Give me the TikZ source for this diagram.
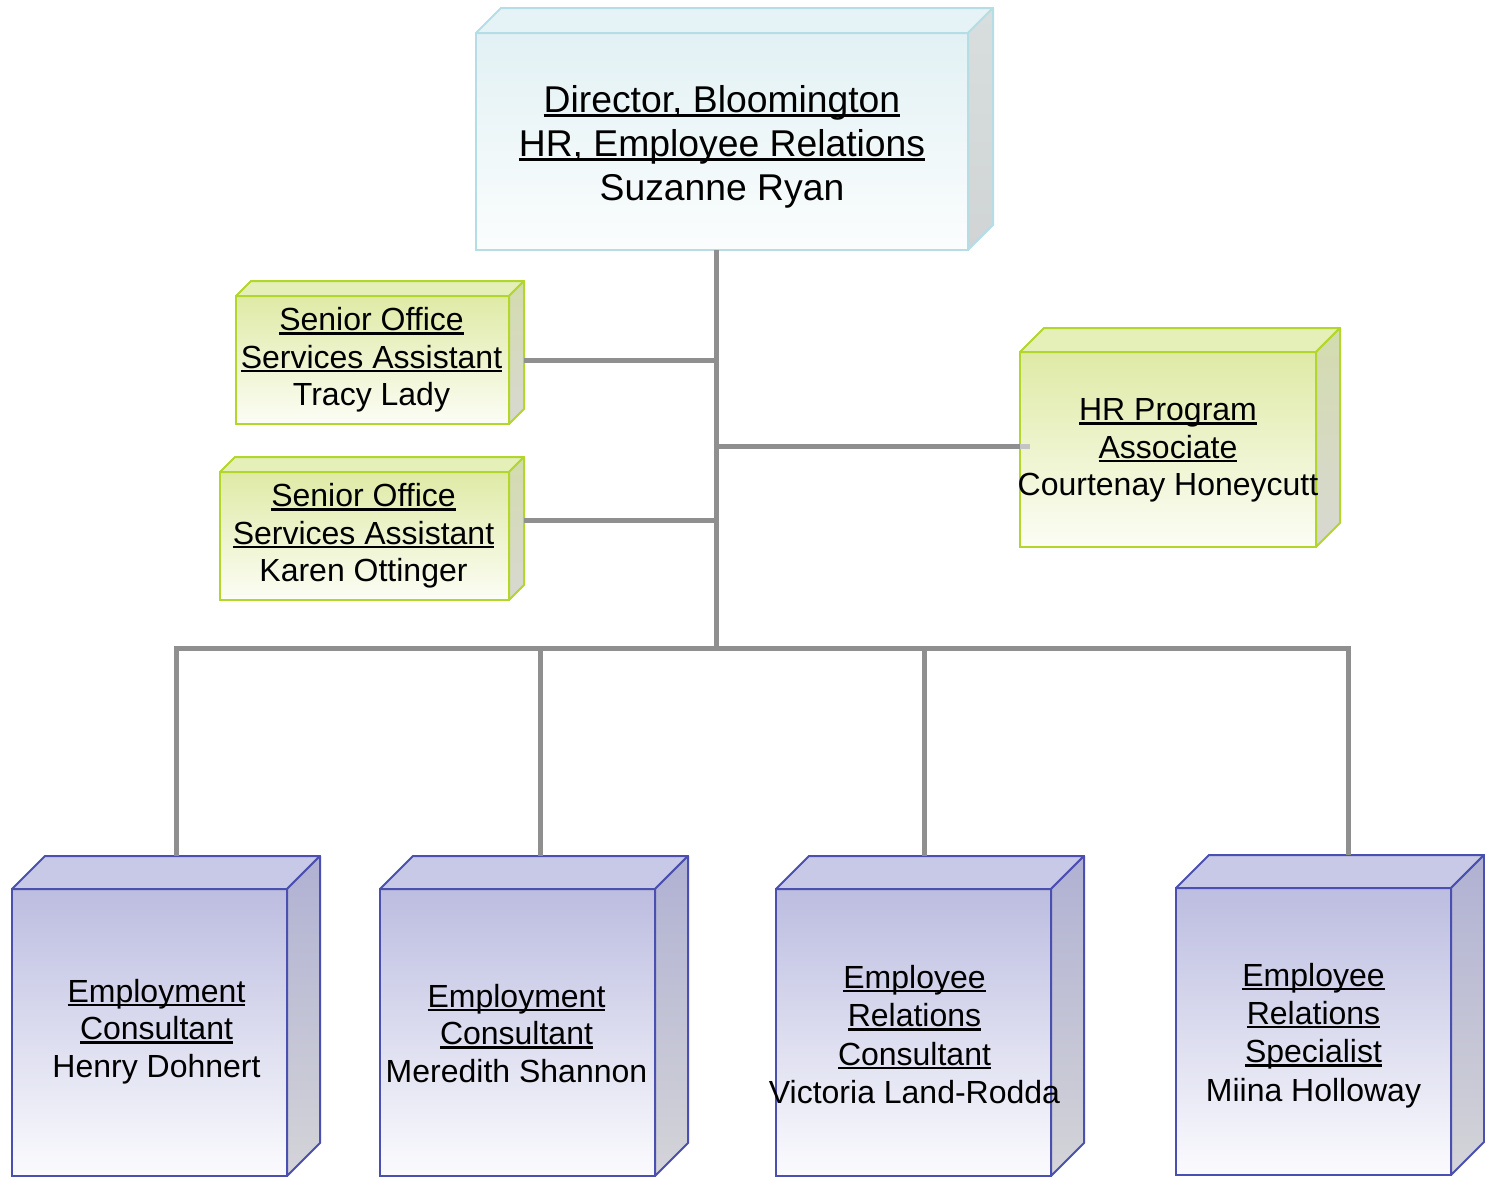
\documentclass[tikz,border=0pt]{standalone}
\usepackage{fontspec}
\setmainfont{Liberation Sans}
\usetikzlibrary{calc}
\definecolor{linegray}{HTML}{8F8F8F}
\definecolor{fadegray}{HTML}{C4C4C4}
\definecolor{cyanB}{HTML}{B5DDE6}
\definecolor{cyanT}{HTML}{E2F1F4}
\definecolor{cyanW}{HTML}{FBFDFD}
\definecolor{cyanTop}{HTML}{E5F3F6}
\definecolor{cyanS1}{HTML}{D8DEDE}
\definecolor{cyanS2}{HTML}{D0D4D4}
\definecolor{grnB}{HTML}{B2D62A}
\definecolor{grnT}{HTML}{DFEAA6}
\definecolor{grnW}{HTML}{FCFDF5}
\definecolor{grnTop}{HTML}{E5EFB8}
\definecolor{grnS1}{HTML}{D3DCAE}
\definecolor{grnS2}{HTML}{D8D8D2}
\definecolor{bluB}{HTML}{4A4FB0}
\definecolor{bluT}{HTML}{BCBDE0}
\definecolor{bluW}{HTML}{FBFBFE}
\definecolor{bluTop}{HTML}{C8C9E6}
\definecolor{bluS1}{HTML}{B0B1D3}
\definecolor{bluS2}{HTML}{D4D4D8}
\newsavebox\ulbox
\newcommand\ulx[1]{\sbox\ulbox{#1}\rlap{\rule[-0.12em]{\wd\ulbox}{0.075em}}\usebox\ulbox}
% #1 node, #2 depth, #3 top face colour, #4 side top, #5 side bottom, #6 border
\newcommand\cubeparts[6]{%
  \path[draw=#6, line width=2, fill=#3, line join=round] (#1.north west) -- ++(#2,-#2) -- ($(#1.north east)+(#2,-#2)$) -- (#1.north east) -- cycle;
  \path[draw=#6, line width=2, top color=#4, bottom color=#5, line join=round] (#1.north east) -- ++(#2,-#2) -- ($(#1.south east)+(#2,-#2)$) -- (#1.south east) -- cycle;
  \coordinate (#1-top) at ($(#1.north)+(0,-#2)$);
}
\tikzset{
  conn/.style={draw=linegray, line width=5, line join=miter},
  face/.style={line width=2, inner sep=0, outer sep=0, anchor=north west},
  cyanbox/.style={face, draw=cyanB, top color=cyanT, bottom color=cyanW},
  grnbox/.style={face, draw=grnB, top color=grnT, bottom color=grnW},
  blubox/.style={face, draw=bluB, top color=bluT, bottom color=bluW},
  bigtxt/.style={align=center, font=\fontsize{37.3}{44}\selectfont, inner sep=0},
  txt/.style={align=center, font=\fontsize{32}{37.5}\selectfont, inner sep=0},
  txtfour/.style={align=center, font=\fontsize{32}{38.3}\selectfont, inner sep=0},
}
\begin{document}
\begin{tikzpicture}[x=1pt,y=-1pt]
\useasboundingbox (0,0) rectangle (1485,1178);
\fill[white] (0,0) rectangle (1485,1178);

% boxes
\node[cyanbox, minimum width=492, minimum height=217] (top) at (476,33) {};
\cubeparts{top}{25}{cyanTop}{cyanS1}{cyanS2}{cyanB}
\node[grnbox, minimum width=273, minimum height=128] (tracy) at (236,296) {};
\cubeparts{tracy}{15}{grnTop}{grnS1}{grnS2}{grnB}
\node[grnbox, minimum width=289, minimum height=128] (karen) at (220,472) {};
\cubeparts{karen}{15}{grnTop}{grnS1}{grnS2}{grnB}
\node[grnbox, minimum width=296, minimum height=195] (hr) at (1020,352) {};
\cubeparts{hr}{24}{grnTop}{grnS1}{grnS2}{grnB}
\node[blubox, minimum width=275, minimum height=287] (henry) at (12,889) {};
\cubeparts{henry}{33}{bluTop}{bluS1}{bluS2}{bluB}
\node[blubox, minimum width=275, minimum height=287] (meredith) at (380,889) {};
\cubeparts{meredith}{33}{bluTop}{bluS1}{bluS2}{bluB}
\node[blubox, minimum width=275, minimum height=287] (victoria) at (776,889) {};
\cubeparts{victoria}{33}{bluTop}{bluS1}{bluS2}{bluB}
\node[blubox, minimum width=275, minimum height=287] (miina) at (1176,888) {};
\cubeparts{miina}{33}{bluTop}{bluS1}{bluS2}{bluB}

% texts
\node[bigtxt] (top-t) at ($(top.center)+(0,5)$) {\ulx{Director, Bloomington}\\ \ulx{HR, Employee Relations}\\ Suzanne Ryan};
\node[txt] (tracy-t) at ($(tracy.center)+(-1,0)$) {\ulx{Senior Office}\\ \ulx{Services Assistant}\\ Tracy Lady};
\node[txt] (karen-t) at ($(karen.center)+(-1,0)$) {\ulx{Senior Office}\\ \ulx{Services Assistant}\\ Karen Ottinger};
\node[txt] (hr-t) at ($(hr.center)+(0,1)$) {\ulx{HR Program}\\ \ulx{Associate}\\ Courtenay Honeycutt};
\node[txt] (henry-t) at ($(henry.center)+(7,-1)$) {\ulx{Employment}\\ \ulx{Consultant}\\ Henry Dohnert};
\node[txt] (meredith-t) at ($(meredith.center)+(-1,1)$) {\ulx{Employment}\\ \ulx{Consultant}\\ Meredith Shannon};
\node[txtfour] (victoria-t) at ($(victoria.center)+(1,2)$) {\ulx{Employee}\\ \ulx{Relations}\\ \ulx{Consultant}\\ Victoria Land-Rodda};
\node[txtfour] (miina-t) at ($(miina.center)+(0,4)$) {\ulx{Employee}\\ \ulx{Relations}\\ \ulx{Specialist}\\ Miina Holloway};

% connectors
\coordinate (bus) at (716,648);
\coordinate (b1) at (176,648);
\coordinate (b2) at (540,648);
\coordinate (b3) at (924,648);
\coordinate (b4) at (1348,648);
\coordinate (hrj) at (716,446);
\draw[conn] (top.south -| bus) -- (bus);
\draw[conn] ($(tracy.east)+(15,0)$) -- (tracy.east -| bus);
\draw[conn] ($(karen.east)+(15,-16)$) -- ($(karen.east -| bus)+(0,-16)$);
\draw[conn] (hrj) -- (hrj -| hr.west);
\draw[draw=fadegray, line width=5] (hrj -| hr.west) -- ++(10,0);
\draw[conn] (henry-top -| b1) -- (b1) -- (b4) -- (miina-top -| b4);
\draw[conn] (b2) -- (meredith-top -| b2);
\draw[conn] (b3) -- (victoria-top -| b3);
\end{tikzpicture}
\end{document}
